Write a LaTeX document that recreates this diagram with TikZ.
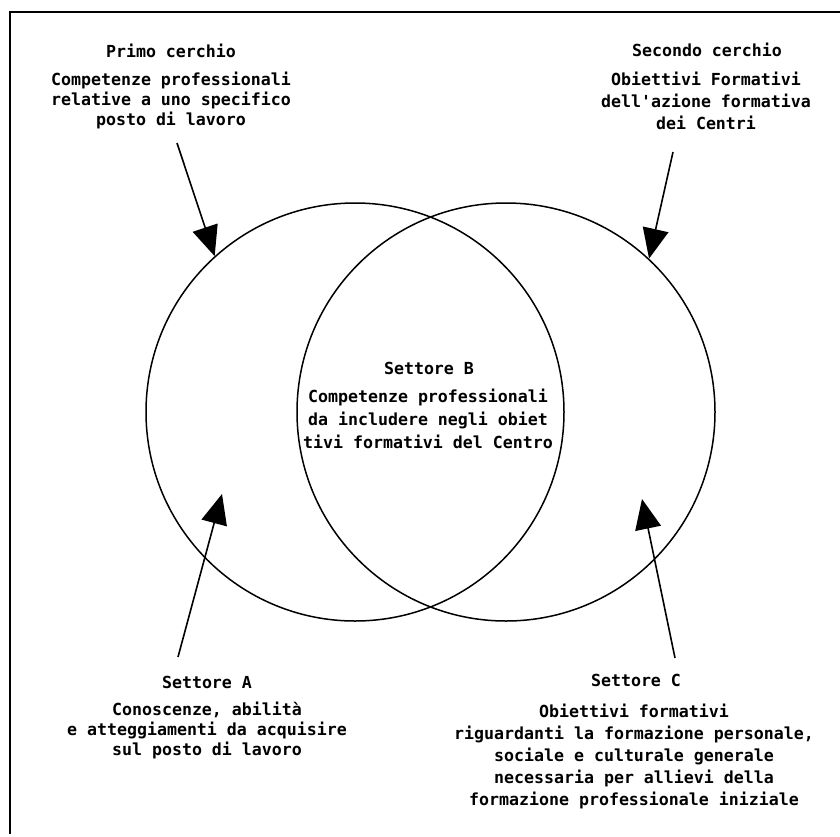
\documentclass[tikz,border=0pt]{standalone}
\usepackage{fontspec}
\setmonofont{DejaVu Sans Mono}
\usetikzlibrary{arrows.meta}

\begin{document}
\begin{tikzpicture}[x=1pt,y=-1pt,
    % stile per i testi dei blocchi
    testo/.style={font=\ttfamily\bfseries\fontsize{16.6}{#1}\selectfont,
        align=center, inner sep=0pt},
    testo/.default=21,
    % stile per le frecce con punta piena
    freccia/.style={line width=1.6pt, -{Triangle[length=30pt,width=26pt]}}
]
    \useasboundingbox (0,0) rectangle (840,836);

    % Cornice (solo lato superiore e sinistro)
    \draw[line width=2pt] (840,12) -- (10,12) -- (10,834);

    % I due cerchi
    \node[circle, draw, line width=1.5pt, minimum size=418pt, inner sep=0pt] (primo) at (355,412) {};
    \node[circle, draw, line width=1.5pt, minimum size=418pt, inner sep=0pt] (secondo) at (506,412) {};

    % Testi in alto
    \node[testo] (primoT) at (171,51) {Primo cerchio};
    \node[testo=20, anchor=north] (primoB) at (171,72)
        {Competenze professionali\\relative a uno specifico\\posto di lavoro};
    \node[testo] (secondoT) at (707,50) {Secondo cerchio};
    \node[testo=22, anchor=north] (secondoB) at (706,72)
        {Obiettivi Formativi\\dell'azione formativa\\dei Centri};

    % Settore B al centro
    \node[testo] (settB) at (429,368) {Settore B};
    \node[testo=23, anchor=north] (settBB) at (428,389)
        {Competenze professionali\\da includere negli obiet\\tivi formativi del Centro};

    % Testi in basso
    \node[testo] (settA) at (207,682) {Settore A};
    \node[testo=20, anchor=north] (settAB) at (207,702)
        {Conoscenze, abilità\\e atteggiamenti da acquisire\\sul posto di lavoro};
    \node[testo] (settC) at (636,680) {Settore C};
    \node[testo=22, anchor=north] (settCB) at (634,704)
        {Obiettivi formativi\\riguardanti la formazione personale,\\sociale e culturale generale\\necessaria per allievi della\\formazione professionale iniziale};

    % Estremi delle frecce
    \coordinate (codaP) at (177,143);
    \coordinate (codaS) at (673,152);
    \coordinate (codaA) at (178,657);
    \coordinate (puntaA) at (222,494);
    \coordinate (codaC) at (675,658);
    \coordinate (puntaC) at (642,499);

    % Frecce
    \draw[freccia] (codaP) -- (primo.132.5);
    \draw[freccia] (codaS) -- (secondo.47.5);
    \draw[freccia] (codaA) -- (puntaA);
    \draw[freccia] (codaC) -- (puntaC);
\end{tikzpicture}
\end{document}
